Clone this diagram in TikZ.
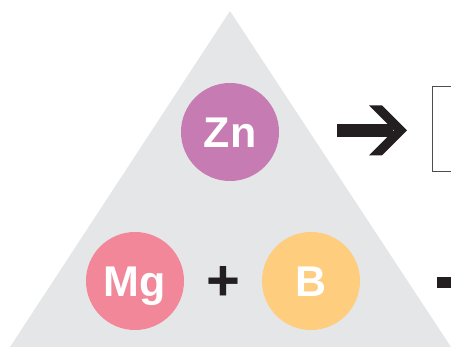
\documentclass[tikz,border=0pt]{standalone}
\usepackage{fontspec}
\setmainfont{Liberation Sans}
\usetikzlibrary{positioning}

\definecolor{trigray}{HTML}{E5E6E8}
\definecolor{zncol}{HTML}{C67BB2}
\definecolor{mgcol}{HTML}{F2879A}
\definecolor{bcol}{HTML}{FECD7E}
\definecolor{inkblack}{HTML}{231F20}

\begin{document}
\begin{tikzpicture}[x=1pt, y=-1pt,
  atom/.style={circle, minimum size=98pt, inner sep=0pt, text=white,
    font=\fontsize{43}{43}\selectfont\bfseries, text height=31pt, text depth=0pt}]
\useasboundingbox (0,0) rectangle (451,347);
\clip (0,0) rectangle (451,347);

% Triangle
\fill[trigray] (230,11) -- (451,347) -- (10,347) -- cycle;

% Elements
\node[atom, fill=zncol] (zn) at (230,132) {Zn};
\node[atom, fill=mgcol] (mg) at (135,281) {Mg};
\node[atom, fill=bcol] (b) at (311,281) {B};
\node[inkblack, anchor=base, inner sep=0pt, font=\fontsize{58}{58}\selectfont\bfseries] (plus) at (223.5,301) {+};

% Product box (cut off)
\node[draw=inkblack!80, line width=1pt, anchor=north west, minimum width=60pt, minimum height=85pt] (prodbox) at (432,86) {};

% Arrow
\coordinate (arrtail) at (337,130.5);
\coordinate (arrtip) at (407,130.5);
\draw[inkblack, line width=13pt] (arrtail) -- ([xshift=-14pt]arrtip);
\fill[inkblack] (arrtip) -- ++(-25,-25) -- ++(-13,0) -- ++(25,25) -- ++(-25,25) -- ++(13,0) -- cycle;

% Second arrow (cut off)
\fill[inkblack] (437,277) rectangle (452,288);
\end{tikzpicture}
\end{document}
